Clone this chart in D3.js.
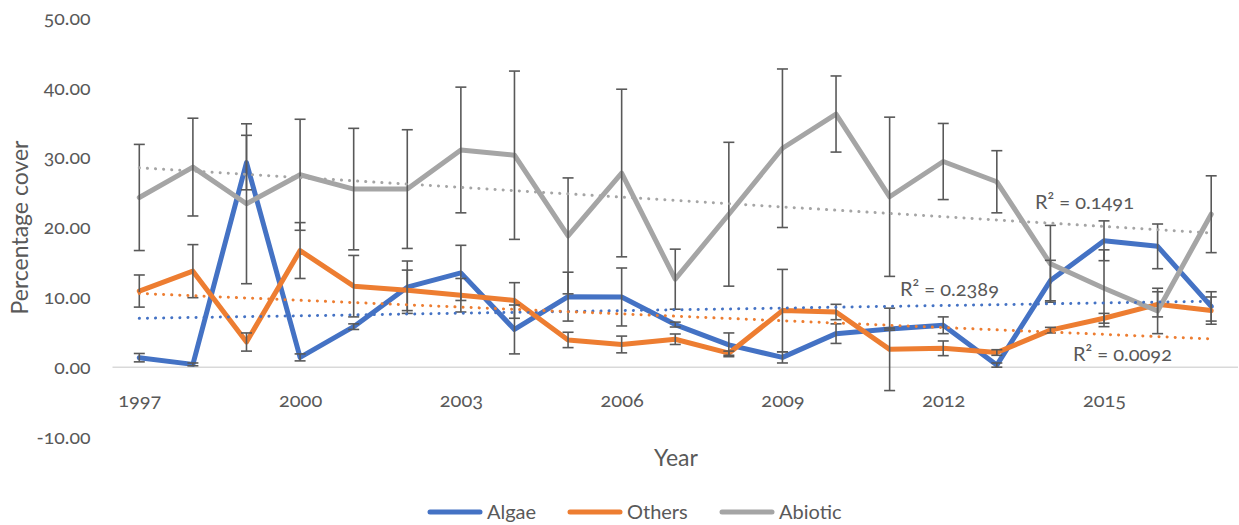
<!DOCTYPE html>
<html>
<head>
<meta charset="utf-8">
<script src="https://cdn.jsdelivr.net/npm/d3@7"></script>
<style>
  body { margin: 0; background: #ffffff; }
  text { font-family: Lato, "Open Sans", sans-serif; fill: #595959; font-variant-numeric: oldstyle-nums; }
</style>
</head>
<body>
<svg id="chart" width="1239" height="525"></svg>
<script>
// Survey years
const years = [1997, 1998, 1999, 2000, 2001, 2002, 2003, 2004, 2005, 2006, 2007,
               2008, 2009, 2010, 2011, 2012, 2013, 2014, 2015, 2016, 2017];

// Mean percentage cover per year
const algae   = [1.36, 0.4, 29.3, 1.4, 5.8, 11.45, 13.5, 5.4, 10.1, 10.05, 6.1,
                 3.2, 1.4, 4.8, 5.45, 6.0, 0.3, 12.4, 18.1, 17.3, 8.7];
const others  = [10.9, 13.75, 3.6, 16.7, 11.6, 11.0, 10.3, 9.55, 3.9, 3.25, 4.0,
                 2.0, 8.1, 7.9, 2.55, 2.7, 2.1, 5.3, 7.0, 9.0, 8.1];
const abiotic = [24.3, 28.65, 23.4, 27.55, 25.5, 25.5, 31.1, 30.35, 18.8, 27.8, 12.6,
                 21.9, 31.35, 36.25, 24.4, 29.45, 26.55, 14.8, 11.3, 8.05, 21.9];

// Error bar half-widths (±)
const algaeErr   = [0.6, 0.2, 3.9, 0.5, 0.4, 3.75, 3.95, 3.5, 3.5, 4.15, 0.35,
                    1.7, 0.8, 1.4, 0.15, 1.2, 0.3, 2.9, 2.85, 3.2, 2.1];
const othersErr  = [2.3, 3.8, 1.3, 4.0, 4.4, 2.9, 2.4, 2.55, 1.1, 1.2, 0.75,
                    0.3, 5.9, 1.1, 5.9, 1.05, 0.4, 0.4, 0.7, 1.8, 1.95];
const abioticErr = [7.6, 7.0, 11.45, 7.95, 8.7, 8.5, 9.0, 12.05, 8.3, 12.0, 4.3,
                    10.3, 11.35, 5.45, 11.4, 5.45, 4.45, 5.5, 5.5, 3.25, 5.5];

// Axis labels
const xTickLabels = ["1997", "2000", "2003", "2006", "2009", "2012", "2015"];
const yTicks = [-10, 0, 10, 20, 30, 40, 50];

// Coefficient of determination shown next to each trendline
const r2Labels = ["R² = 0.0092", "R² = 0.2389", "R² = 0.1491"];

const seriesNames  = ["Algae", "Others", "Abiotic"];
const seriesColors = ["#4472c4", "#ed7d31", "#a5a5a5"];

const series = [
  { name: seriesNames[0], color: seriesColors[0], values: algae,   err: algaeErr },
  { name: seriesNames[1], color: seriesColors[1], values: others,  err: othersErr },
  { name: seriesNames[2], color: seriesColors[2], values: abiotic, err: abioticErr }
];

const svg = d3.select("#chart");
const plot = { left: 112.5, right: 1238, top: 18, bottom: 437 };

const x = d3.scalePoint()
  .domain(years.map(String))
  .range([plot.left, plot.right])
  .padding(0.5);

const y = d3.scaleLinear()
  .domain([-10, 50])
  .range([plot.bottom, plot.top]);

// Horizontal line at zero
svg.append("line")
  .attr("x1", plot.left).attr("x2", plot.right)
  .attr("y1", y(0)).attr("y2", y(0))
  .attr("stroke", "#d9d9d9").attr("stroke-width", 1.5);

// Value axis labels (plain hyphen for negatives)
const fmt = d3.formatLocale({ decimal: ".", thousands: ",", grouping: [3], currency: ["", ""], minus: "-" }).format(".2f");
const yAxis = d3.axisLeft(y)
  .tickValues(yTicks)
  .tickFormat(fmt)
  .tickSize(0)
  .tickPadding(22);
const yg = svg.append("g")
  .attr("transform", `translate(${plot.left},0)`)
  .call(yAxis);
yg.select(".domain").remove();
yg.selectAll("text").attr("font-size", 19.5).style("font-family", null).attr("fill", null);

// Category axis labels, every third year
const xAxis = d3.axisBottom(x)
  .tickValues(xTickLabels)
  .tickSize(0)
  .tickPadding(26);
const xg = svg.append("g")
  .attr("transform", `translate(0,${y(0)})`)
  .call(xAxis);
xg.select(".domain").remove();
xg.selectAll("text").attr("font-size", 20).style("font-family", null).attr("fill", null);

// Axis titles
svg.append("text")
  .attr("transform", `translate(28,${(plot.top + plot.bottom) / 2}) rotate(-90)`)
  .attr("text-anchor", "middle")
  .attr("font-size", 23)
  .text("Percentage cover");

svg.append("text")
  .attr("x", 676).attr("y", 466)
  .attr("text-anchor", "middle")
  .attr("font-size", 23)
  .text("Year");

// Series lines
const line = d3.line()
  .x((d, i) => x(String(years[i])))
  .y(d => y(d));

const lineLayer = svg.append("g");
series.forEach(s => {
  lineLayer.append("path")
    .datum(s.values)
    .attr("d", line)
    .attr("fill", "none")
    .attr("stroke", s.color)
    .attr("stroke-width", 5)
    .attr("stroke-linejoin", "round")
    .attr("stroke-linecap", "round");
});

// Error bars
const errLayer = svg.append("g")
  .attr("stroke", "#595959")
  .attr("stroke-width", 1.6);
const capHalf = 5.5;
series.forEach(s => {
  s.values.forEach((v, i) => {
    const cx = x(String(years[i]));
    const hi = y(v + s.err[i]);
    const lo = y(v - s.err[i]);
    errLayer.append("line").attr("x1", cx).attr("x2", cx).attr("y1", hi).attr("y2", lo);
    errLayer.append("line").attr("x1", cx - capHalf).attr("x2", cx + capHalf).attr("y1", hi).attr("y2", hi);
    errLayer.append("line").attr("x1", cx - capHalf).attr("x2", cx + capHalf).attr("y1", lo).attr("y2", lo);
  });
});

// Linear trendlines (least squares on the year index)
function linearFit(vals) {
  const xs = vals.map((d, i) => i + 1);
  const mx = d3.mean(xs), my = d3.mean(vals);
  let sxy = 0, sxx = 0;
  xs.forEach((xi, i) => { sxy += (xi - mx) * (vals[i] - my); sxx += (xi - mx) ** 2; });
  const slope = sxy / sxx;
  const icpt = my - slope * mx;
  return xs.map(xi => icpt + slope * xi);
}

const trendLayer = svg.append("g");
series.forEach(s => {
  const fit = linearFit(s.values);
  const last = fit.length - 1;
  trendLayer.append("line")
    .attr("x1", x(String(years[0]))).attr("y1", y(fit[0]))
    .attr("x2", x(String(years[last]))).attr("y2", y(fit[last]))
    .attr("stroke", s.color)
    .attr("stroke-width", 3)
    .attr("stroke-linecap", "round")
    .attr("stroke-dasharray", "0.1 8");
});

// R² annotations
const r2Pos = [[1073, 361], [900, 296], [1035, 209]];
r2Labels.forEach((t, i) => {
  svg.append("text")
    .attr("x", r2Pos[i][0]).attr("y", r2Pos[i][1])
    .attr("font-size", 20)
    .text(t);
});

// Legend
const legendX = [428, 568, 720];
const legend = svg.append("g");
series.forEach((s, i) => {
  const g = legend.append("g").attr("transform", `translate(${legendX[i]},512)`);
  g.append("line")
    .attr("x1", 2).attr("x2", 52).attr("y1", 0).attr("y2", 0)
    .attr("stroke", s.color).attr("stroke-width", 5).attr("stroke-linecap", "round");
  g.append("text")
    .attr("x", 59).attr("y", 0).attr("dy", "0.35em")
    .attr("font-size", 20)
    .text(s.name);
});
</script>
</body>
</html>
